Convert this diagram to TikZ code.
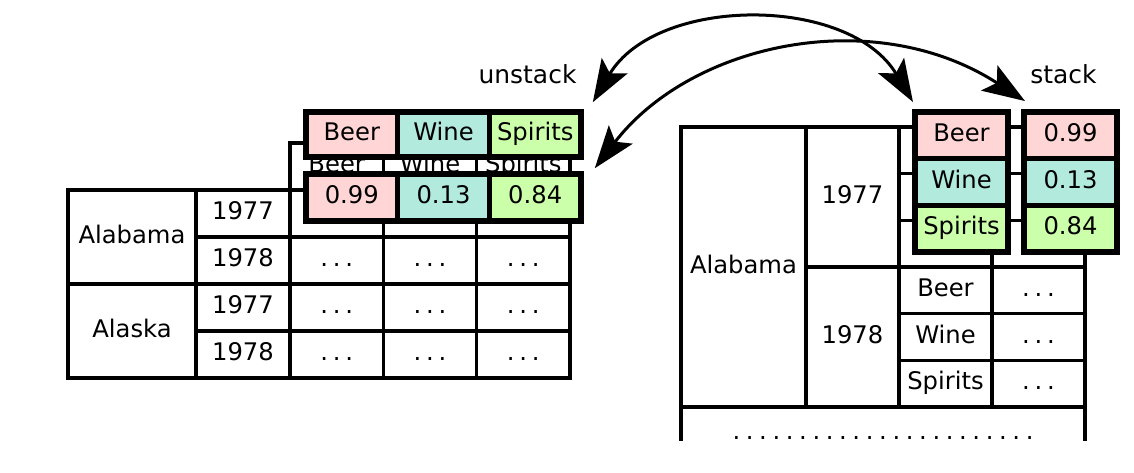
\documentclass[tikz,border=0pt]{standalone}
\usepackage{fontspec}
\setmainfont{DejaVu Sans}
\usepackage{xcolor}
\usepackage{tikz}
\usetikzlibrary{arrows.meta}

\definecolor{beerpink}{RGB}{255,213,213}
\definecolor{winecyan}{RGB}{178,234,222}
\definecolor{spiritgreen}{RGB}{204,255,170}

\newcommand\cellgap{.\kern2.7pt.\kern2.7pt.}
\newcommand\rowgap{\foreach \d in {1,...,22}{.\kern3.2pt}.}

\begin{document}
\begin{tikzpicture}[
          x=0.02cm, y=-0.02cm,
          every node/.style={font=\fontsize{13.8}{16}\selectfont, inner sep=0pt, text height=10pt, text depth=3pt},
          cell/.style={draw, line width=0.066cm, minimum height=0.94cm},
          state/.style={cell, minimum width=2.56cm},
          year/.style={cell, minimum width=1.88cm},
          data/.style={cell, minimum width=1.867cm},
          sub/.style={cell, minimum width=1.86cm, minimum height=0.933cm},
          pick/.style={draw, line width=0.11cm, minimum width=1.834cm, minimum height=0.94cm},
          col/.style={draw, line width=0.11cm, minimum width=1.87cm, minimum height=0.936cm},
          flip/.style={{Stealth[length=0.85cm, width=0.6cm, inset=0.18cm]}-{Stealth[length=0.85cm, width=0.6cm, inset=0.18cm]}, line width=0.06cm}
        ]
          \useasboundingbox (0,0) rectangle (1134,473);

          \node[state, minimum height=1.88cm] (alabamaL) at (132,237) {Alabama};
          \node[state, minimum height=1.88cm] (alaskaL) at (132,331) {Alaska};
          \foreach \y/\yr [count=\i] in {213.5/1977, 260.5/1978, 307.5/1977, 354.5/1978}
            \node[year] (yearL\i) at (243,\y) {\yr};
          \foreach \x/\t [count=\j] in {336.7/Beer, 430/Wine, 523.3/Spirits} {
            \node[data] (headL\j) at (\x,166.5) {\t};
            \node[data] (valL0\j) at (\x,213.5) {};
            \foreach \y [count=\i] in {260.5, 307.5, 354.5}
              \node[data] (valL\i\j) at (\x,\y) {\cellgap};
          }

          \foreach \x/\t/\c/\v in {351.8/Beer/beerpink/0.99, 443.5/Wine/winecyan/0.13, 535.2/Spirits/spiritgreen/0.84} {
            \node[pick, fill=\c, minimum height=0.9cm] (u\t) at (\x,134.5) {\t};
            \node[pick, fill=\c] (uv\t) at (\x,197.5) {\v};
          }

          \node[cell, minimum width=2.5cm, minimum height=5.6cm] (alabamaR) at (743.5,267) {Alabama};
          \node[cell, minimum width=1.86cm, minimum height=2.8cm] (y77R) at (852.5,197) {1977};
          \node[cell, minimum width=1.86cm, minimum height=2.8cm] (y78R) at (852.5,337) {1978};
          \foreach \y [count=\i] in {150.3, 197, 243.7} {
            \node[sub] (kind77\i) at (945.5,\y) {};
            \node[sub] (val77\i) at (1038.5,\y) {};
          }
          \foreach \y/\t [count=\i] in {290.3/Beer, 337/Wine, 383.7/Spirits} {
            \node[sub] (kind78\i) at (945.5,\y) {\t};
            \node[sub] (val78\i) at (1038.5,\y) {\cellgap};
          }
          \begin{scope}
            \clip (600,0) rectangle (1134,440);
            \node[cell, minimum width=8.08cm, minimum height=1.06cm] (moreR) at (883,433.5) {\rowgap};
          \end{scope}

          \foreach \y/\t/\c/\v in {135.2/Beer/beerpink/0.99, 182/Wine/winecyan/0.13, 228.8/Spirits/spiritgreen/0.84} {
            \node[col, fill=\c] (s\t) at (961.5,\y) {\t};
            \node[col, fill=\c] (sv\t) at (1070.5,\y) {\v};
          }

          \node[anchor=base, font=\fontsize{14.2}{17}\selectfont] (unstackLbl) at (527.5,84) {unstack};
          \node[anchor=base, font=\fontsize{14.2}{17}\selectfont] (stackLbl) at (1063.5,84) {stack};

          \draw[flip] ([shift={(9,-7)}]uSpirits.north east) .. controls +(64,-107) and +(-64,-107) .. ([shift={(1,-7)}]sBeer.north west);
          \draw[flip] ([shift={(11,-3)}]uvSpirits.north east) .. controls +(97,-126) and +(-150,-97) .. ([shift={(4,-8)}]svBeer.north west);
        \end{tikzpicture}
\end{document}
